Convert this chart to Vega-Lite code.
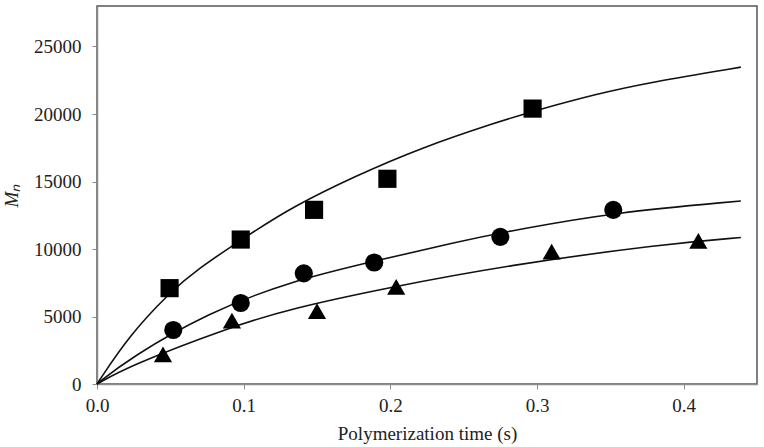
{
  "$schema": "https://vega.github.io/schema/vega-lite/v6.json",
  "autosize": "none",
  "width": 660,
  "height": 378,
  "padding": {"left": 97, "top": 6, "right": 7, "bottom": 63},
  "background": "white",
  "config": {
    "view": {"stroke": "#555555", "strokeWidth": 1.5},
    "font": "Liberation Serif",
    "axis": {
      "grid": false,
      "labelFlush": false,
      "domainColor": "#8c8c8c",
      "domainWidth": 1.5,
      "tickColor": "#8c8c8c",
      "tickSize": 5,
      "labelFont": "Liberation Serif",
      "labelFontSize": 19,
      "labelColor": "#222222",
      "titleFont": "Liberation Serif",
      "titleFontSize": 19,
      "titleFontWeight": "normal",
      "titleColor": "#222222"
    }
  },
  "datasets": {
    "measured": [
      {"t": 0.0495, "mn": 7100, "series": "A"},
      {"t": 0.098, "mn": 10700, "series": "A"},
      {"t": 0.148, "mn": 12900, "series": "A"},
      {"t": 0.198, "mn": 15200, "series": "A"},
      {"t": 0.297, "mn": 20400, "series": "A"},
      {"t": 0.052, "mn": 4000, "series": "B"},
      {"t": 0.098, "mn": 6000, "series": "B"},
      {"t": 0.141, "mn": 8200, "series": "B"},
      {"t": 0.189, "mn": 9000, "series": "B"},
      {"t": 0.275, "mn": 10900, "series": "B"},
      {"t": 0.352, "mn": 12900, "series": "B"},
      {"t": 0.045, "mn": 2200, "series": "C"},
      {"t": 0.092, "mn": 4700, "series": "C"},
      {"t": 0.150, "mn": 5400, "series": "C"},
      {"t": 0.204, "mn": 7200, "series": "C"},
      {"t": 0.310, "mn": 9800, "series": "C"},
      {"t": 0.410, "mn": 10600, "series": "C"}
    ],
    "model": [
      {"t": 0, "mn": 0, "series": "A"},
      {"t": 0.022, "mn": 3600, "series": "A"},
      {"t": 0.05, "mn": 6800, "series": "A"},
      {"t": 0.067, "mn": 8400, "series": "A"},
      {"t": 0.1055, "mn": 11200, "series": "A"},
      {"t": 0.133, "mn": 13100, "series": "A"},
      {"t": 0.176, "mn": 15400, "series": "A"},
      {"t": 0.221, "mn": 17500, "series": "A"},
      {"t": 0.273, "mn": 19400, "series": "A"},
      {"t": 0.297, "mn": 20200, "series": "A"},
      {"t": 0.341, "mn": 21500, "series": "A"},
      {"t": 0.377, "mn": 22350, "series": "A"},
      {"t": 0.439, "mn": 23470, "series": "A"},
      {"t": 0, "mn": 0, "series": "B"},
      {"t": 0.022, "mn": 1900, "series": "B"},
      {"t": 0.076, "mn": 5300, "series": "B"},
      {"t": 0.133, "mn": 7650, "series": "B"},
      {"t": 0.19, "mn": 9120, "series": "B"},
      {"t": 0.244, "mn": 10500, "series": "B"},
      {"t": 0.287, "mn": 11450, "series": "B"},
      {"t": 0.352, "mn": 12700, "series": "B"},
      {"t": 0.439, "mn": 13560, "series": "B"},
      {"t": 0, "mn": 0, "series": "C"},
      {"t": 0.022, "mn": 1350, "series": "C"},
      {"t": 0.09, "mn": 4190, "series": "C"},
      {"t": 0.133, "mn": 5610, "series": "C"},
      {"t": 0.199, "mn": 7150, "series": "C"},
      {"t": 0.28, "mn": 8800, "series": "C"},
      {"t": 0.386, "mn": 10360, "series": "C"},
      {"t": 0.439, "mn": 10850, "series": "C"}
    ]
  },
  "encoding": {
    "x": {
      "field": "t",
      "type": "quantitative",
      "scale": {"domain": [0, 0.45], "nice": false, "zero": true},
      "axis": {
        "values": [0, 0.1, 0.2, 0.3, 0.4],
        "format": ".1f",
        "title": "Polymerization time (s)",
        "labelPadding": 7,
        "titlePadding": 9
      }
    },
    "y": {
      "field": "mn",
      "type": "quantitative",
      "scale": {"domain": [0, 28000], "nice": false},
      "axis": {
        "values": [0, 5000, 10000, 15000, 20000, 25000],
        "format": "d",
        "title": "Mₙ",
        "titleFontStyle": "italic",
        "labelPadding": 11,
        "titlePadding": 12
      }
    }
  },
  "layer": [
    {
      "data": {"name": "model"},
      "mark": {"type": "line", "color": "#111111", "strokeWidth": 1.6, "interpolate": "basis"},
      "encoding": {"detail": {"field": "series", "type": "nominal"}}
    },
    {
      "data": {"name": "measured"},
      "mark": {"type": "point", "filled": true, "color": "black", "opacity": 1, "size": 330},
      "encoding": {
        "shape": {
          "field": "series",
          "type": "nominal",
          "scale": {"domain": ["A", "B", "C"], "range": ["square", "circle", "triangle-up"]},
          "legend": null
        }
      }
    }
  ]
}
